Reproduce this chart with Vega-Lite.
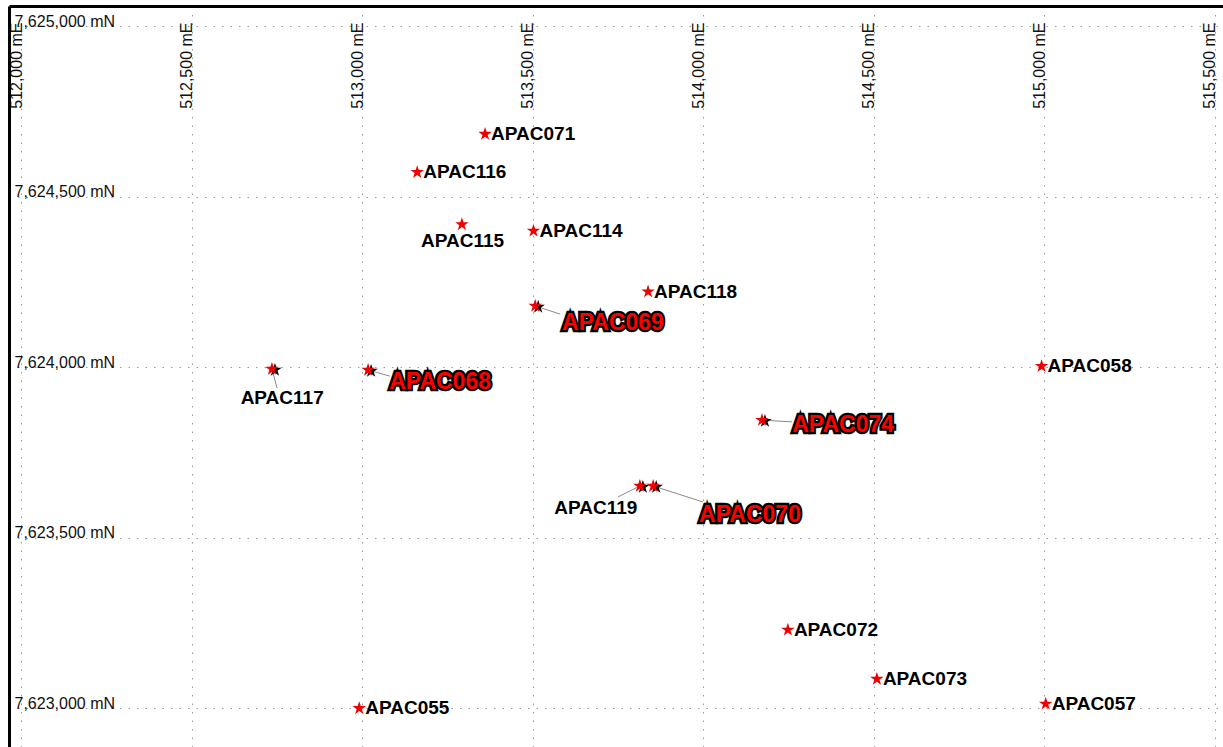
{
  "$schema": "https://vega.github.io/schema/vega-lite/v6.json",
  "autosize": {"type": "none"},
  "padding": {"left": 9, "top": 6, "right": 0, "bottom": 0},
  "width": 1214,
  "height": 741,
  "background": "white",
  "config": {
    "view": {"stroke": null},
    "axis": {"title": null, "ticks": false, "tickSize": 0, "labelFont": "Liberation Sans", "labelFontSize": 16, "labelColor": "#111",
      "labelFlush": false, "labelOverlap": false, "labelBound": false, "domain": true, "domainColor": "#000", "domainWidth": 3,
      "grid": true, "gridColor": "#9a9a9a", "gridDash": [1.5, 7], "gridWidth": 1}
  },
  "data": {"values": [
    {"well": "APAC071", "east": 513360, "north": 7624684},
    {"well": "APAC116", "east": 513161, "north": 7624572},
    {"well": "APAC115", "east": 513292, "north": 7624419, "lab_e": 513294, "lab_n": 7624370},
    {"well": "APAC114", "east": 513502, "north": 7624400},
    {"well": "APAC118", "east": 513838, "north": 7624222},
    {"well": "APAC069", "east": 513507, "north": 7624180, "lab_e": 513735, "lab_n": 7624130, "lead_e": 513580, "lead_n": 7624156, "hl": 1},
    {"well": "APAC058", "east": 514992, "north": 7624003},
    {"well": "APAC117", "east": 512735, "north": 7623995, "lab_e": 512765, "lab_n": 7623910, "lead_e": 512750, "lead_n": 7623939},
    {"well": "APAC068", "east": 513017, "north": 7623992, "lab_e": 513228, "lab_n": 7623957, "lead_e": 513081, "lead_n": 7623974, "hl": 1},
    {"well": "APAC074", "east": 514172, "north": 7623845, "lab_e": 514410, "lab_n": 7623831, "lead_e": 514260, "lead_n": 7623840, "hl": 1},
    {"well": "APAC119", "east": 513814, "north": 7623652, "lab_e": 513685, "lab_n": 7623587, "lead_e": 513750, "lead_n": 7623620},
    {"well": "APAC070", "east": 513853, "north": 7623652, "lab_e": 514137, "lab_n": 7623567, "lead_e": 513999, "lead_n": 7623605, "hl": 1},
    {"well": "APAC072", "east": 514248, "north": 7623230},
    {"well": "APAC073", "east": 514509, "north": 7623086},
    {"well": "APAC057", "east": 515004, "north": 7623013},
    {"well": "APAC055", "east": 512991, "north": 7623000}
  ]},
  "layer": [
    {
      "transform": [{"filter": "datum.lead_e > 0"}],
      "mark": {"type": "rule", "color": "#8a8a8a", "strokeWidth": 1},
      "encoding": {
        "x": {"field": "east", "type": "quantitative", "scale": {"domain": [511963.9, 515524.0], "nice": false, "zero": false},
          "axis": {"orient": "top", "values": [512000, 512500, 513000, 513500, 514000, 514500, 515000, 515500],
            "labelExpr": "format(datum.value, ',') + ' mE'", "labelAngle": -90, "labelAlign": "right", "labelBaseline": "alphabetic", "labelPadding": -16}},
        "y": {"field": "north", "type": "quantitative", "scale": {"domain": [7622886.5, 7625059.5], "nice": false, "zero": false},
          "axis": {"orient": "left", "values": [7623000, 7623500, 7624000, 7624500, 7625000],
            "labelExpr": "format(datum.value, ',') + ' mN'", "labelAngle": 0, "labelAlign": "left", "labelBaseline": "alphabetic", "labelPadding": -5}},
        "x2": {"field": "lead_e"},
        "y2": {"field": "lead_n"}
      }
    },
    {
      "transform": [{"filter": "!(datum.lab_e > 0)"}],
      "mark": {"type": "text", "align": "left", "baseline": "middle", "dx": 6, "font": "Liberation Sans", "fontWeight": "bold", "fontSize": 19, "color": "#000"},
      "encoding": {
        "x": {"field": "east", "type": "quantitative"},
        "y": {"field": "north", "type": "quantitative"},
        "text": {"field": "well", "type": "nominal"}
      }
    },
    {
      "transform": [{"filter": "datum.lab_e > 0 && !(datum.hl > 0)"}],
      "mark": {"type": "text", "align": "center", "baseline": "middle", "font": "Liberation Sans", "fontWeight": "bold", "fontSize": 19, "color": "#000"},
      "encoding": {
        "x": {"field": "lab_e", "type": "quantitative"},
        "y": {"field": "lab_n", "type": "quantitative"},
        "text": {"field": "well", "type": "nominal"}
      }
    },
    {
      "transform": [{"filter": "datum.hl > 0"}],
      "mark": {"type": "text", "align": "center", "baseline": "middle", "font": "Liberation Sans", "fontWeight": "bold", "fontSize": 23, "fill": "#000", "stroke": "#000", "strokeWidth": 4.5, "opacity": 1},
      "encoding": {
        "x": {"field": "lab_e", "type": "quantitative"},
        "y": {"field": "lab_n", "type": "quantitative"},
        "text": {"field": "well", "type": "nominal"}
      }
    },
    {
      "transform": [{"filter": "datum.hl > 0"}],
      "mark": {"type": "text", "align": "center", "baseline": "middle", "font": "Liberation Sans", "fontWeight": "bold", "fontSize": 23, "fill": "#ff0000", "opacity": 1},
      "encoding": {
        "x": {"field": "lab_e", "type": "quantitative"},
        "y": {"field": "lab_n", "type": "quantitative"},
        "text": {"field": "well", "type": "nominal"}
      }
    },
    {
      "transform": [{"filter": "datum.lead_e > 0"}],
      "mark": {"type": "point", "shape": "M0,-1L0.2245,-0.309L0.951,-0.309L0.363,0.118L0.588,0.809L0,0.382L-0.588,0.809L-0.363,0.118L-0.951,-0.309L-0.2245,-0.309Z", "filled": true, "color": "#000", "opacity": 1, "size": 200, "xOffset": 3, "yOffset": 1},
      "encoding": {
        "x": {"field": "east", "type": "quantitative"},
        "y": {"field": "north", "type": "quantitative"}
      }
    },
    {
      "mark": {"type": "point", "shape": "M0,-1L0.2245,-0.309L0.951,-0.309L0.363,0.118L0.588,0.809L0,0.382L-0.588,0.809L-0.363,0.118L-0.951,-0.309L-0.2245,-0.309Z", "filled": true, "color": "#ee0000", "opacity": 1, "size": 200},
      "encoding": {
        "x": {"field": "east", "type": "quantitative"},
        "y": {"field": "north", "type": "quantitative"}
      }
    }
  ]
}
